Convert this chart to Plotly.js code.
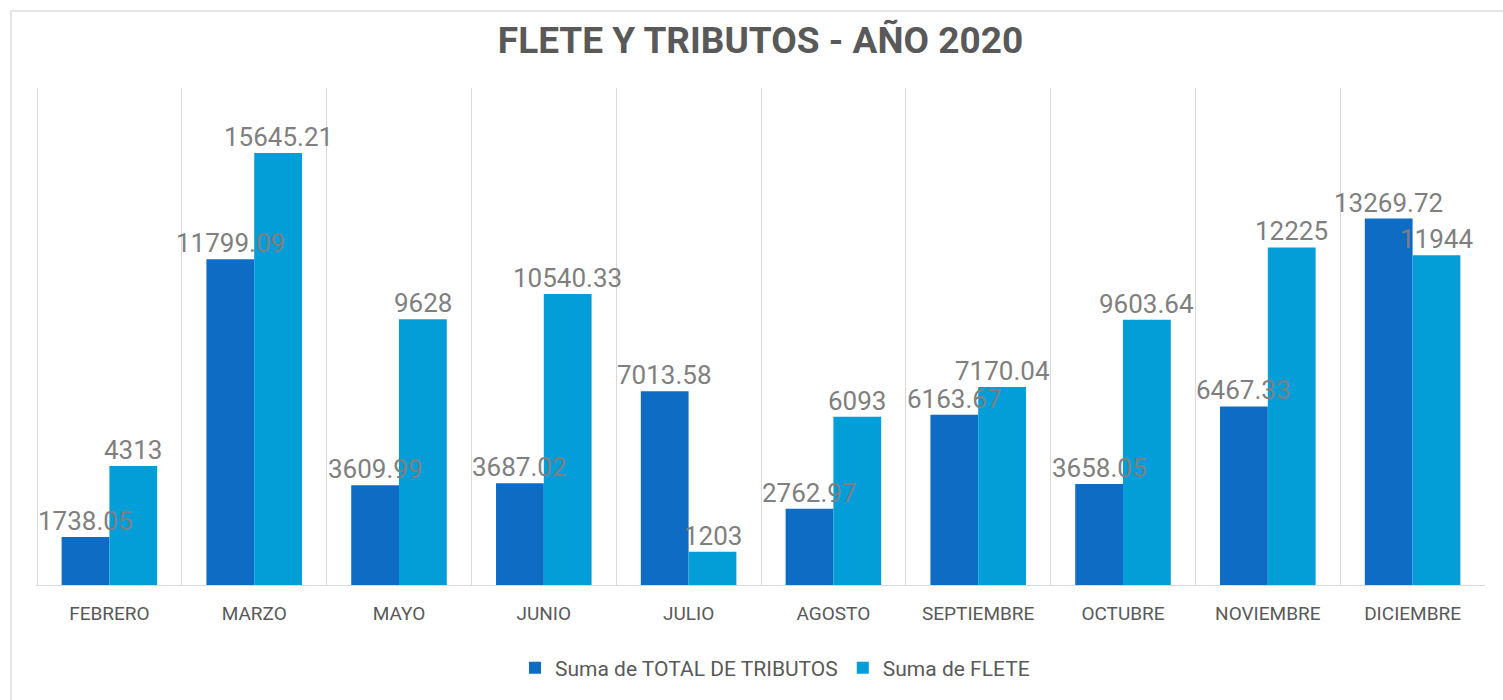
<!DOCTYPE html>
<html>
<head>
<meta charset="utf-8">
<script src="https://cdn.plot.ly/plotly-3.0.1.min.js"></script>
<style>
  html, body { margin: 0; padding: 0; background: #ffffff; }
  #wrap { position: relative; width: 1503px; height: 700px; overflow: hidden; }
  #chart { position: absolute; left: 0; top: 0; width: 1503px; height: 700px; }
  #frame { position: absolute; left: 10px; top: 10px; width: 1600px; height: 800px;
           border-left: 2px solid #e6e6e6; border-top: 2px solid #e6e6e6; pointer-events: none; }
</style>
</head>
<body>
<div id="wrap">
  <div id="chart"></div>
  <div id="frame"></div>
</div>
<script>
const months = ["FEBRERO", "MARZO", "MAYO", "JUNIO", "JULIO", "AGOSTO", "SEPTIEMBRE", "OCTUBRE", "NOVIEMBRE", "DICIEMBRE"];
const tributos = [1738.05, 11799.09, 3609.99, 3687.02, 7013.58, 2762.97, 6163.67, 3658.05, 6467.33, 13269.72];
const flete = [4313, 15645.21, 9628, 10540.33, 1203, 6093, 7170.04, 9603.64, 12225, 11944];
const seriesNames = ["Suma de TOTAL DE TRIBUTOS", "Suma de FLETE"];
const chartTitle = "FLETE Y TRIBUTOS - AÑO 2020";

const W = 1503, H = 700;
const margin = { l: 36, r: 18, t: 88, b: 114 };
const bargap = 0.34;
const labelFont = { family: "Roboto, sans-serif", size: 26, color: "#7f7f7f" };

// pixel offset of each bar centre from its category centre
const catWidth = (W - margin.l - margin.r) / months.length;
const barWidth = catWidth * (1 - bargap) / 2;
const seriesList = [tributos, flete];
const shifts = [-barWidth / 2, barWidth / 2];

const annotations = [];
seriesList.forEach((vals, s) => {
  vals.forEach((v, i) => {
    annotations.push({
      x: months[i], y: v, xref: "x", yref: "y",
      text: String(v), showarrow: false, xanchor: "center", yanchor: "bottom",
      xshift: shifts[s], yshift: -1, font: labelFont
    });
  });
});

const traces = [
  {
    type: "bar", name: seriesNames[0], x: months, y: tributos,
    marker: { color: "#0F6CC4", line: { width: 0 } }, hoverinfo: "x+y"
  },
  {
    type: "bar", name: seriesNames[1], x: months, y: flete,
    marker: { color: "#039DD8", line: { width: 0 } }, hoverinfo: "x+y"
  }
];

const layout = {
  width: W, height: H,
  paper_bgcolor: "#ffffff", plot_bgcolor: "#ffffff",
  margin: margin,
  barmode: "group", bargap: bargap, bargroupgap: 0,
  title: {
    text: "<b>" + chartTitle + "</b>",
    font: { family: "Roboto, sans-serif", size: 37, color: "#595959" },
    x: 0.5, xref: "paper", y: 1 - 40 / 700, yref: "container", yanchor: "middle"
  },
  xaxis: {
    type: "category", tickson: "boundaries", showgrid: true, gridcolor: "#d9d9d9", gridwidth: 1,
    showline: true, linecolor: "#d9d9d9", linewidth: 1, ticks: "", ticklabelstandoff: 11,
    tickfont: { family: "Roboto, sans-serif", size: 19, color: "#595959" },
    zeroline: false, fixedrange: true
  },
  yaxis: {
    range: [0, 18000], showgrid: false, zeroline: false, showticklabels: false,
    showline: false, ticks: "", fixedrange: true
  },
  annotations: annotations,
  showlegend: true,
  legend: {
    orientation: "h", x: 0.51, xanchor: "center", y: -0.165, yanchor: "middle",
    font: { family: "Roboto, sans-serif", size: 21, color: "#595959" },
    traceorder: "normal", itemclick: false
  }
};

Plotly.newPlot("chart", traces, layout, { displayModeBar: false, staticPlot: true });
</script>
</body>
</html>
